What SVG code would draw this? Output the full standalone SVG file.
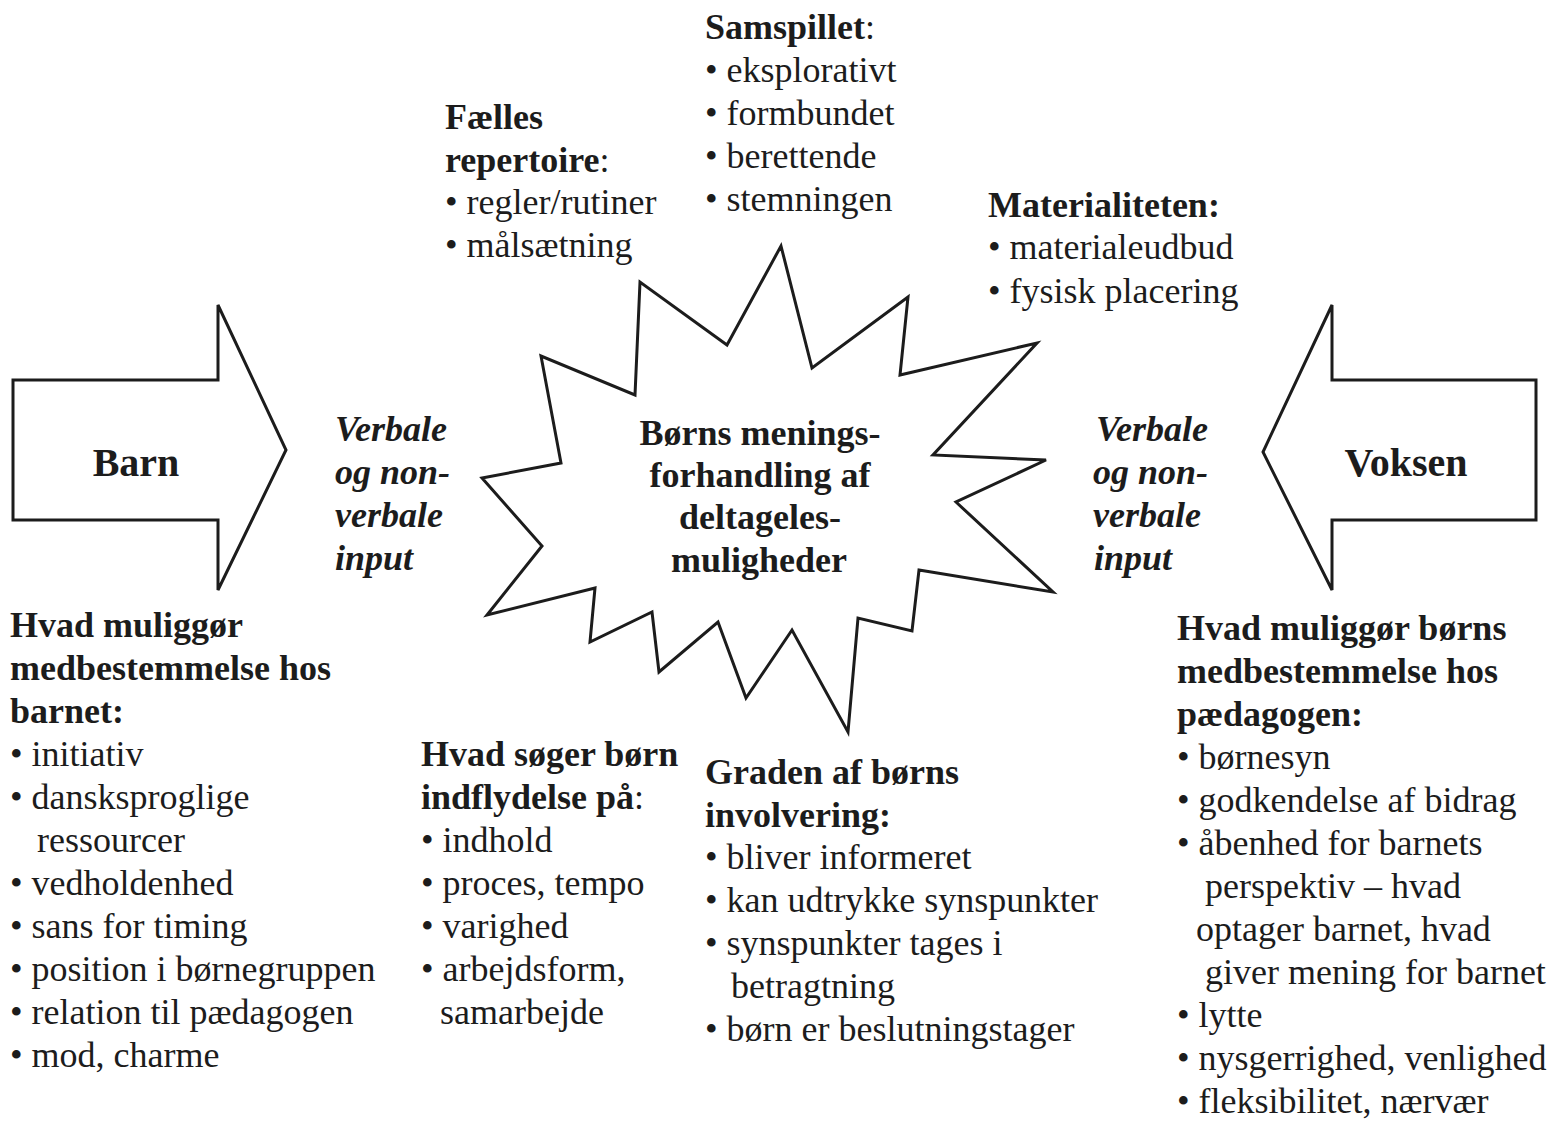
<svg xmlns="http://www.w3.org/2000/svg" width="1547" height="1121" viewBox="0 0 1547 1121">
<style>
text{font-family:"Liberation Serif","Times New Roman",serif;font-size:36px;fill:#1c1c1c}
.b{font-weight:bold}
.n{font-weight:normal}
.bi{font-weight:bold;font-style:italic}
.c{text-anchor:middle}
.big{font-size:40px;font-weight:bold}
.shape{fill:#fff;stroke:#1c1c1c;stroke-width:3;stroke-linejoin:miter}
</style>
<rect width="1547" height="1121" fill="#fff"/>
<g id="connectors"/>
<g id="barn">
<polygon class="shape" points="13,380 218,380 218,305 286,450 218,590 218,520 13,520"/>
<text class="big c" x="136" y="476">Barn</text>
</g>
<g id="voksen">
<polygon class="shape" points="1536,380 1332,380 1332,305 1263,452 1332,590 1332,520 1536,520"/>
<text class="big c" x="1406" y="476">Voksen</text>
</g>
<g id="star">
<polygon class="shape" points="781,246 812,368 908,297 900,375 1037,343 933,455 1046,460 956,502 1053,592 919,570 912,631 858,618 848,732 792,630 746,698 718,622 659,672 652,612 590,642 595,588 487,615 542,546 482,478 561,463 541,356 635,395 640,282 727,345"/>
<text class="b c" x="760" y="445">Børns menings-</text>
<text class="b c" x="760" y="487">forhandling af</text>
<text class="b c" x="760" y="529">deltageles-</text>
<text class="b c" x="759" y="572">muligheder</text>
</g>
<g id="input-left">
<text class="bi" x="335" y="441">Verbale</text>
<text class="bi" x="335" y="484">og non-</text>
<text class="bi" x="335" y="527">verbale</text>
<text class="bi" x="335" y="570">input</text>
</g>
<g id="input-right">
<text class="bi" x="1096" y="441">Verbale</text>
<text class="bi" x="1093" y="484">og non-</text>
<text class="bi" x="1093" y="527">verbale</text>
<text class="bi" x="1094" y="570">input</text>
</g>
<g id="samspillet">
<text x="705" y="39"><tspan class="b">Samspillet</tspan>:</text>
<text x="705" y="82">• eksplorativt</text>
<text x="705" y="125">• formbundet</text>
<text x="705" y="168">• berettende</text>
<text x="705" y="211">• stemningen</text>
</g>
<g id="faelles">
<text class="b" x="445" y="129">Fælles</text>
<text x="445" y="172"><tspan class="b">repertoire</tspan>:</text>
<text x="445" y="214">• regler/rutiner</text>
<text x="445" y="257">• målsætning</text>
</g>
<g id="materialiteten">
<text class="b" x="988" y="217">Materialiteten:</text>
<text x="988" y="259">• materialeudbud</text>
<text x="988" y="303">• fysisk placering</text>
</g>
<g id="barnet">
<text class="b" x="10" y="637">Hvad muliggør</text>
<text class="b" x="10" y="680">medbestemmelse hos</text>
<text class="b" x="10" y="723">barnet:</text>
<text x="10" y="766">• initiativ</text>
<text x="10" y="809">• dansksproglige</text>
<text x="37" y="852">ressourcer</text>
<text x="10" y="895">• vedholdenhed</text>
<text x="10" y="938">• sans for timing</text>
<text x="10" y="981">• position i børnegruppen</text>
<text x="10" y="1024">• relation til pædagogen</text>
<text x="10" y="1067">• mod, charme</text>
</g>
<g id="indflydelse">
<text class="b" x="421" y="766">Hvad søger børn</text>
<text x="421" y="809"><tspan class="b">indflydelse på</tspan>:</text>
<text x="421" y="852">• indhold</text>
<text x="421" y="895">• proces, tempo</text>
<text x="421" y="938">• varighed</text>
<text x="421" y="981">• arbejdsform,</text>
<text x="440" y="1024">samarbejde</text>
</g>
<g id="graden">
<text class="b" x="705" y="784">Graden af børns</text>
<text class="b" x="705" y="827">involvering:</text>
<text x="705" y="869">• bliver informeret</text>
<text x="705" y="912" textLength="393" lengthAdjust="spacing">• kan udtrykke synspunkter</text>
<text x="705" y="955">• synspunkter tages i</text>
<text x="731" y="998">betragtning</text>
<text x="705" y="1041">• børn er beslutningstager</text>
</g>
<g id="paedagogen">
<text class="b" x="1177" y="640">Hvad muliggør børns</text>
<text class="b" x="1177" y="683">medbestemmelse hos</text>
<text class="b" x="1177" y="726">pædagogen:</text>
<text x="1177" y="769">• børnesyn</text>
<text x="1177" y="812">• godkendelse af bidrag</text>
<text x="1177" y="855">• åbenhed for barnets</text>
<text x="1205" y="898">perspektiv – hvad</text>
<text x="1196" y="941">optager barnet, hvad</text>
<text x="1205" y="984">giver mening for barnet</text>
<text x="1177" y="1027">• lytte</text>
<text x="1177" y="1070">• nysgerrighed, venlighed</text>
<text x="1177" y="1113">• fleksibilitet, nærvær</text>
</g>
</svg>
